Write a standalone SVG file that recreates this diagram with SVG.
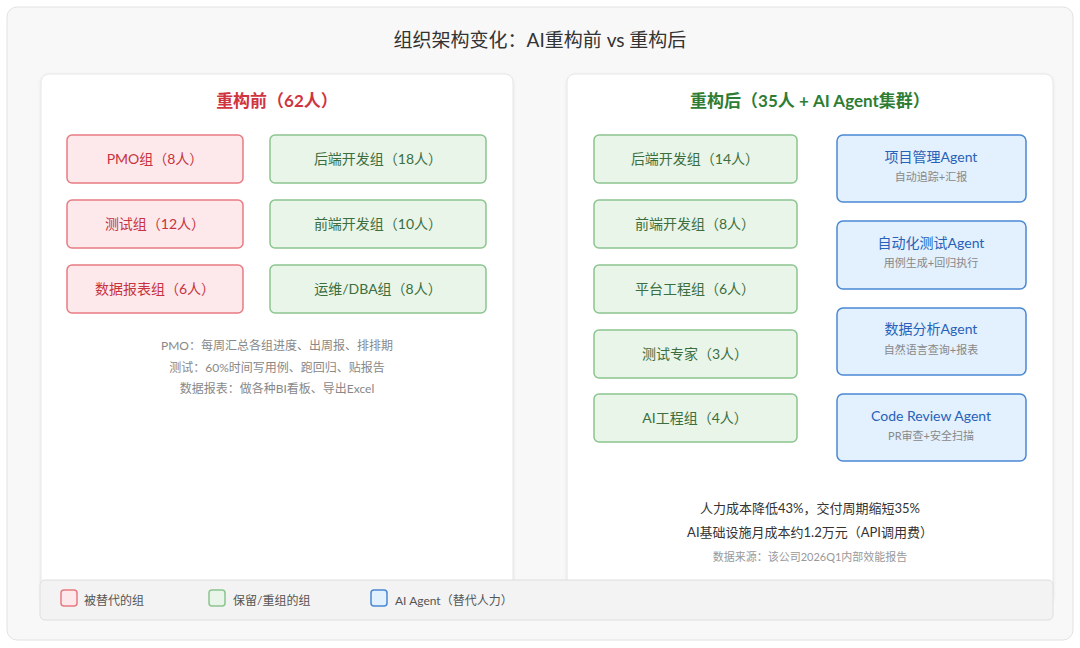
<svg xmlns="http://www.w3.org/2000/svg" width="1080" height="648" viewBox="0 0 1080 648">
<defs>
<filter id="sh" x="-10%" y="-10%" width="120%" height="130%"><feDropShadow dx="0" dy="1" stdDeviation="1.5" flood-color="#000" flood-opacity="0.08"/></filter>
<style>
text{font-family:Lato,"Noto Sans CJK SC","Noto Sans",sans-serif;text-anchor:middle}
.red rect{fill:#fde9eb;stroke:#e77b82;stroke-width:1.5}
.red text{fill:#c8323e;font-size:14px}
.grn rect{fill:#e8f5e8;stroke:#8cc58e;stroke-width:1.5}
.grn text{fill:#3d6e3f;font-size:14px}
.blu rect{fill:#e3f0fd;stroke:#4a88d4;stroke-width:1.5}
.blu .t{fill:#2762b8;font-size:14px}
.blu .s{fill:#888;font-size:11px}
.note{fill:#888;font-size:12px}
.lg{fill:#555;font-size:12px;text-anchor:start}
</style>
</defs>
<rect x="7" y="7" width="1066" height="633" rx="10" fill="#f8f8f8" stroke="#e2e2e2"/>
<text x="540" y="47" font-size="19" fill="#333">组织架构变化：AI重构前 vs 重构后</text>
<g id="left-panel">
<rect x="41" y="74" width="472" height="530" rx="8" fill="#fff" stroke="#e6e6e6" filter="url(#sh)"/>
<text x="277" y="107" font-size="17" font-weight="bold" fill="#d0343f">重构前（62人）</text>
</g>
<g id="right-panel">
<rect x="567" y="74" width="486" height="530" rx="8" fill="#fff" stroke="#e6e6e6" filter="url(#sh)"/>
<text x="810" y="107" font-size="17" font-weight="bold" fill="#2f7d34">重构后（35人 + AI Agent集群）</text>
</g>
<g id="pmo" class="red"><rect x="67" y="135" width="176" height="48" rx="5"/><text x="155" y="164">PMO组（8人）</text></g>
<g id="test" class="red"><rect x="67" y="200" width="176" height="48" rx="5"/><text x="155" y="229">测试组（12人）</text></g>
<g id="report" class="red"><rect x="67" y="265" width="176" height="48" rx="5"/><text x="155" y="294">数据报表组（6人）</text></g>
<g id="be-old" class="grn"><rect x="270" y="135" width="216" height="48" rx="5"/><text x="378" y="164">后端开发组（18人）</text></g>
<g id="fe-old" class="grn"><rect x="270" y="200" width="216" height="48" rx="5"/><text x="378" y="229">前端开发组（10人）</text></g>
<g id="ops-old" class="grn"><rect x="270" y="265" width="216" height="48" rx="5"/><text x="378" y="294">运维/DBA组（8人）</text></g>
<g id="notes">
<text class="note" x="277" y="350">PMO：每周汇总各组进度、出周报、排排期</text>
<text class="note" x="277" y="372">测试：60%时间写用例、跑回归、贴报告</text>
<text class="note" x="277" y="393">数据报表：做各种BI看板、导出Excel</text>
</g>
<g id="be-new" class="grn"><rect x="594" y="135" width="203" height="48" rx="5"/><text x="695" y="164">后端开发组（14人）</text></g>
<g id="fe-new" class="grn"><rect x="594" y="200" width="203" height="48" rx="5"/><text x="695" y="229">前端开发组（8人）</text></g>
<g id="platform" class="grn"><rect x="594" y="265" width="203" height="48" rx="5"/><text x="695" y="294">平台工程组（6人）</text></g>
<g id="testexp" class="grn"><rect x="594" y="330" width="203" height="48" rx="5"/><text x="695" y="359">测试专家（3人）</text></g>
<g id="aieng" class="grn"><rect x="594" y="394" width="203" height="48" rx="5"/><text x="695" y="423">AI工程组（4人）</text></g>
<g id="pm-agent" class="blu"><rect x="837" y="135" width="189" height="67" rx="6"/><text class="t" x="931" y="162">项目管理Agent</text><text class="s" x="931" y="181">自动追踪+汇报</text></g>
<g id="test-agent" class="blu"><rect x="837" y="221" width="189" height="68" rx="6"/><text class="t" x="931" y="248">自动化测试Agent</text><text class="s" x="931" y="267">用例生成+回归执行</text></g>
<g id="data-agent" class="blu"><rect x="837" y="308" width="189" height="67" rx="6"/><text class="t" x="931" y="334">数据分析Agent</text><text class="s" x="931" y="354">自然语言查询+报表</text></g>
<g id="cr-agent" class="blu"><rect x="837" y="394" width="189" height="67" rx="6"/><text class="t" x="931" y="421">Code Review Agent</text><text class="s" x="931" y="440">PR审查+安全扫描</text></g>
<g id="summary">
<text x="810" y="513" font-size="13" fill="#333">人力成本降低43%，交付周期缩短35%</text>
<text x="810" y="537" font-size="13" fill="#333">AI基础设施月成本约1.2万元（API调用费）</text>
<text x="810" y="561" font-size="11" fill="#999">数据来源：该公司2026Q1内部效能报告</text>
</g>
<g id="connectors"></g>
<g id="legend">
<rect x="40" y="580" width="1013" height="40" rx="5" fill="#f3f3f3" stroke="#dedede"/>
<rect x="61" y="590" width="16" height="16" rx="3" fill="#fde9eb" stroke="#e77b82" stroke-width="1.5"/>
<text class="lg" x="84" y="605">被替代的组</text>
<rect x="209" y="590" width="16" height="16" rx="3" fill="#e8f5e8" stroke="#8cc58e" stroke-width="1.5"/>
<text class="lg" x="233" y="605">保留/重组的组</text>
<rect x="371" y="590" width="16" height="16" rx="3" fill="#e3f0fd" stroke="#4a88d4" stroke-width="1.5"/>
<text class="lg" x="395" y="605">AI Agent（替代人力）</text>
</g>
</svg>
